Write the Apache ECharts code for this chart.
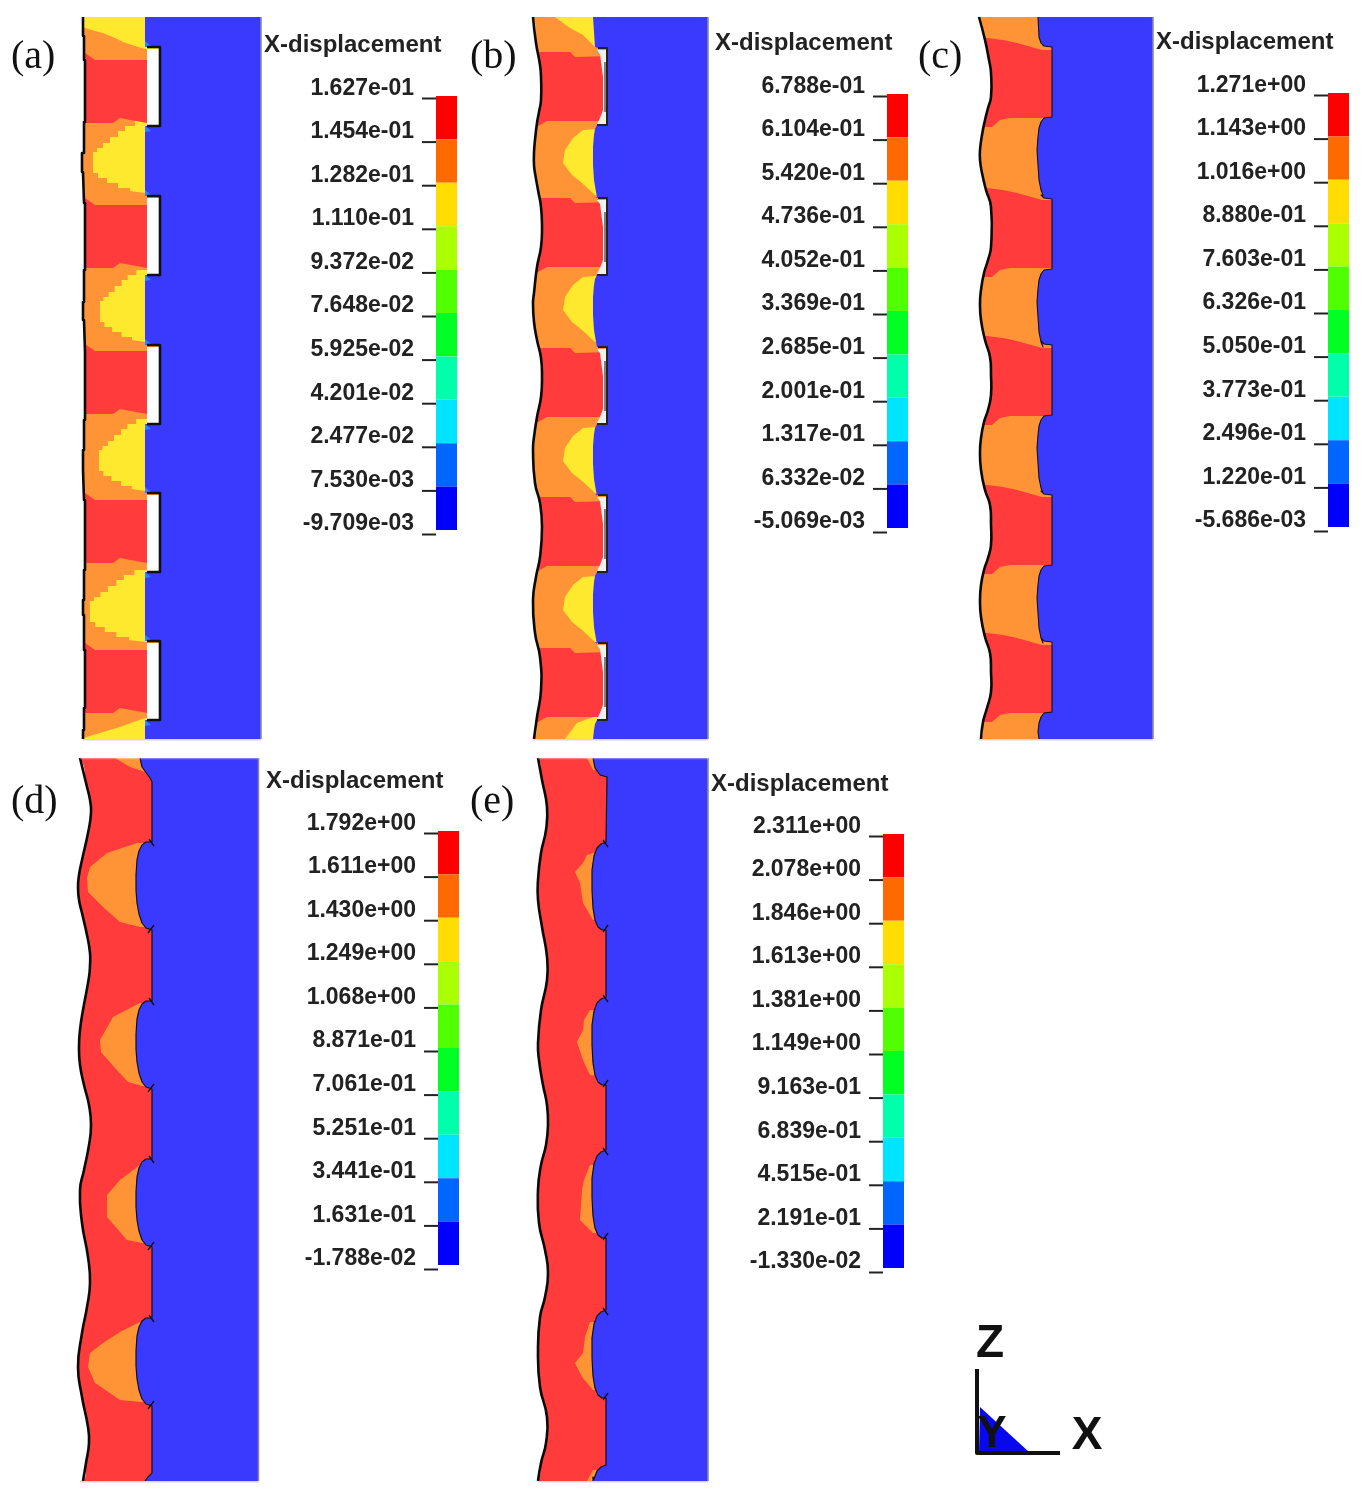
<!DOCTYPE html>
<html><head><meta charset="utf-8">
<style>html,body{margin:0;padding:0;background:#fff}#c{width:1363px;height:1492px;filter:blur(0.45px)}</style>
<script src="https://cdn.jsdelivr.net/npm/echarts@6/dist/echarts.min.js"></script>
</head><body><div id="c"></div>
<script>
// ---- legend values ----
const labelsA=['1.627e-01','1.454e-01','1.282e-01','1.110e-01','9.372e-02','7.648e-02','5.925e-02','4.201e-02','2.477e-02','7.530e-03','-9.709e-03'];
const labelsB=['6.788e-01','6.104e-01','5.420e-01','4.736e-01','4.052e-01','3.369e-01','2.685e-01','2.001e-01','1.317e-01','6.332e-02','-5.069e-03'];
const labelsC=['1.271e+00','1.143e+00','1.016e+00','8.880e-01','7.603e-01','6.326e-01','5.050e-01','3.773e-01','2.496e-01','1.220e-01','-5.686e-03'];
const labelsD=['1.792e+00','1.611e+00','1.430e+00','1.249e+00','1.068e+00','8.871e-01','7.061e-01','5.251e-01','3.441e-01','1.631e-01','-1.788e-02'];
const labelsE=['2.311e+00','2.078e+00','1.846e+00','1.613e+00','1.381e+00','1.149e+00','9.163e-01','6.839e-01','4.515e-01','2.191e-01','-1.330e-02'];
const scaleColors=['#ff0000','#ff6a00','#ffdd00','#aaff00','#50ff00','#00ff22','#00ffaa','#00e5ff','#0066ff','#0000ff'];

// ---- contour outlines ----
const leftA=[[83,17],[83,36],[84,36],[84,60],[85,60],[85,122],[84,122],[84,153],[82,153],[82,172],[83,172],[84,203],[85,203],[85,270],[84,270],[84,302],[83,302],[83,320],[84,320],[85,352],[85,420],[84,420],[84,450],[83,450],[83,470],[84,500],[85,500],[85,570],[84,570],[84,600],[83,600],[83,615],[84,615],[84,650],[85,650],[85,708],[84,708],[84,730],[83,730],[83,739]];
const leftB=[[533,17],[536,43],[540,65],[541,77],[541,100],[539,112],[537,123],[535,140],[534,153],[534,165],[535,173],[538,190],[541,207],[542,227],[541,247],[537,267],[534,293],[533,303],[534,322],[537,340],[541,358],[542,377],[541,397],[537,417],[534,437],[533,450],[535,483],[540,503],[542,527],[540,557],[536,577],[533,600],[535,633],[540,657],[541,690],[537,717],[534,739]];
const leftC=[[979,17],[985,40],[989,60],[991,73],[991,97],[988,108],[985,120],[982,135],[980,150],[980,160],[982,173],[986,190],[991,207],[991,247],[988,260],[984,273],[981,290],[980,303],[981,320],[985,340],[990,357],[991,375],[991,395],[988,410],[984,422],[981,438],[980,452],[981,470],[985,490],[990,505],[991,525],[991,545],[988,558],[984,570],[981,585],[980,600],[981,617],[985,637],[990,653],[991,672],[991,692],[987,708],[983,722],[981,739]];
const leftD=[[80,758],[87,787],[90,800],[91,813],[88,833],[82,860],[79,875],[78,887],[79,900],[82,913],[87,935],[90,953],[90,965],[89,977],[83,1010],[80,1030],[79,1047],[80,1065],[84,1085],[89,1105],[91,1125],[89,1145],[84,1170],[80,1190],[82,1223],[88,1257],[90,1283],[87,1307],[82,1333],[78,1367],[82,1397],[88,1427],[89,1443],[86,1463],[83,1481]];
const leftE=[[538,758],[542,780],[547,807],[546,830],[541,853],[538,880],[538,900],[542,927],[547,957],[547,980],[541,1010],[538,1043],[539,1060],[543,1085],[547,1105],[548,1125],[546,1145],[541,1165],[538,1190],[539,1223],[545,1250],[548,1273],[545,1297],[540,1317],[538,1350],[540,1387],[547,1417],[546,1443],[541,1463],[538,1481]];

// plate boundary of one rib + lobe, and where each repeat sits
const edgeCellA=[[145,47],[160,47],[160,126],[145,126]];
const edgeShiftA=[0,149,298,446,594];
const edgeCellB=[[595,47],[598,48],[607,48],[607,125],[597,125],[595,129],[594,135],[593,147],[593,165],[594,180],[596,192],[597,197]];
const edgeShiftB=[0,150,299,447,595];
const edgeCellC=[[1041,43],[1044,46],[1052,47],[1052,117],[1044,118],[1041,122],[1039,128],[1038,137],[1037,150],[1038,165],[1039,180],[1041,190],[1043,195]];
const edgeShiftC=[0,152,298,448,595];
const edgeCellD=[[152,842],[146,842],[142,845],[139,851],[137,860],[136,875],[136,890],[137,903],[139,914],[142,923],[146,928],[152,930]];
const edgeShiftD=[0,159,317,476];
const edgeCellE=[[606,842],[601,844],[597,848],[594,856],[592,870],[592,890],[593,908],[595,920],[598,927],[602,930],[606,930]];
const edgeShiftE=[0,155,308,468,623];

// panel (a) colour zones
const yellowTopA=[[80,17],[170,17],[170,49],[145,49],[135,46],[123,42],[115,38],[103,33],[95,31],[85,28],[80,27]];
const yellowLobeA=[[145,121],[135,121],[135,126],[125,126],[125,131],[118,131],[118,137],[110,137],[110,143],[103,143],[103,148],[97,148],[97,152],[93,152],[93,173],[98,173],[98,178],[107,178],[107,183],[118,183],[118,188],[130,188],[130,191],[145,193]];
const yellowLobeShiftA=[0,149,298,449];
const yellowLobeReachA=[1,0.865,0.885,1.06];
const yellowEndA=[[145,718],[120,727],[103,732],[87,737],[80,739],[170,739],[170,718]];
const redCellA=[[80,53],[85,53],[95,60],[170,60],[170,123],[147,123],[120,118],[113,123],[80,123]];
const redShiftA=[0,145,291,440,590];
const gapCellA=[[147,49],[159,49],[159,125],[147,125]];
const tipCellA=[[145,41],[151,46],[145,47]];

// panel (b) colour zones
const yellowTopB=[[555,17],[612,17],[612,47],[595,47],[583,35],[570,28]];
const yellowLobeB=[[612,128],[583,130],[573,138],[565,150],[563,163],[572,175],[582,183],[595,195],[612,195]];
const yellowLobeShiftB=[0,147,298,447];
const yellowEndB=[[612,717],[593,717],[577,723],[565,739],[612,739]];
const redCellB=[[525,198],[570,198],[575,203],[612,202],[612,267],[547,267],[538,272],[525,272]];
const redShiftB=[-146,0,150,299,450];
const gapCellB=[[597,50],[600,54],[603,77],[603,110],[600,118],[597,124],[606,124],[606,50]];
const greyBarCellB=[[605,62],[605,112]];

// panel (c) colour zones
const redCellC=[[970,188],[987,188],[1003,190],[1017,193],[1042,200],[1060,200],[1060,268],[1010,268],[1000,270],[992,277],[970,277]];
const redShiftC=[-150,0,148,297,445];

// panel (d) colour zones
const orangeTopD=[[115,758],[170,758],[170,775],[145,772],[130,767]];
const orangeLobeD1=[[170,843],[137,843],[107,853],[90,867],[87,878],[88,892],[103,907],[120,922],[140,927],[170,927]];
const orangeLobeD2=[[170,1003],[140,1003],[113,1017],[100,1040],[101,1052],[115,1068],[128,1082],[142,1086],[170,1086]];
const orangeLobeD3=[[170,1164],[140,1165],[120,1180],[107,1195],[107,1217],[127,1240],[142,1243],[170,1243]];
const orangeLobeD4=[[170,1322],[140,1322],[120,1332],[103,1343],[90,1353],[88,1367],[95,1383],[120,1400],[140,1402],[170,1402]];
const endEdgeD=[[152,1473],[148,1477],[145,1481]];

// panel (e) colour zones
const orangeTopE=[[587,758],[620,758],[620,770],[593,770]];
const orangeLobeE1=[[620,853],[593,853],[587,855],[583,863],[575,872],[580,883],[583,903],[593,920],[620,920]];
const orangeLobeE2=[[620,1010],[590,1010],[584,1020],[583,1030],[577,1042],[583,1060],[590,1075],[620,1078]];
const orangeLobeE3=[[620,1165],[590,1165],[584,1180],[582,1190],[580,1220],[593,1233],[620,1233]];
const orangeLobeE4=[[620,1322],[590,1322],[585,1337],[583,1353],[575,1363],[582,1377],[593,1390],[620,1390]];
const orangeEndE=[[620,1470],[593,1470],[587,1481],[620,1481]];

// colour-scale placement and titles
const panelLetters=['(a)','(b)','(c)','(d)','(e)'];
const letterSpots=[[11,57],[470,57],[918,57],[11,802],[470,802]];
const titleSpots=[[264,45],[715,43],[1156,42],[266,781],[711,784]];
const barSpots=[[436,96],[887,94],[1328,93],[438,831],[883,834]];

// ---- styles ----
const RED='#ff3b3b',ORANGE='#ff9436',YELLOW='#ffe92e',BLUE='#3a3aff',INK='#0a0a0a';
const shapes=[];
const add=(pts,fill,round)=>shapes.push({kind:'polygon',pts,fill,round});
const line=(pts,stroke,w,round)=>shapes.push({kind:'polyline',pts,stroke,w,round});
const at=(cell,dy)=>cell.map(p=>[p[0],p[1]+dy]);
const box=(x0,y0,x1,y1)=>[[x0,y0],[x1,y0],[x1,y1],[x0,y1]];
function chain(cell,shifts,bottom){
  const out=[];
  shifts.forEach(s=>at(cell,s).forEach(p=>{ if(p[1]<=bottom) out.push(p); }));
  return out;
}
function panel(o){
  const minX=Math.min(...o.left.map(p=>p[0]));
  add(box(minX-8,o.top,o.bandRight,o.bottom),o.base);
  o.zones.forEach(z=>add(z[0],z[1]));
  add([[minX-9,o.top],...o.left,[minX-9,o.bottom]],'#ffffff',o.round);
  const edge=[[o.edgeTopX,o.top],...o.edgeHead,...chain(o.cell,o.shifts,o.bottom),...o.edgeTail,[o.edgeEndX,o.bottom]];
  add([...edge,[o.right,o.bottom],[o.right,o.top]],BLUE);
  (o.after||[]).forEach(f=>f(edge));
  line(o.left,INK,2.6,o.round);
  line([[o.right,o.top],[o.right,o.bottom]],'#8a8aa0',1.6);
  line([[o.left[0][0],o.bottom+0.8],[o.right,o.bottom+0.8]],'#d4d4e4',1.4);
}
// (a)
panel({top:17,bottom:739,right:261,bandRight:172,base:ORANGE,left:leftA,
  zones:[[yellowTopA,YELLOW],...yellowLobeShiftA.map((s,i)=>[at(yellowLobeA,s).map(p=>[145-(145-p[0])*yellowLobeReachA[i],p[1]]).concat([[172,193+s],[172,121+s]]),YELLOW]),[yellowEndA,YELLOW],...redShiftA.map(s=>[at(redCellA,s),RED])],
  edgeTopX:145,edgeHead:[],cell:edgeCellA,shifts:edgeShiftA,edgeTail:[],edgeEndX:145,
  after:[()=>{edgeShiftA.forEach(s=>{
    add(at(gapCellA,s),'#ffffff');
    add(at(tipCellA,s),'#2a86ff');
    add(at(tipCellA,s+85),'#2a86ff');
    line(at([[147,47],[160,47],[160,126],[147,126]],s),'#111',2.6);
  });}]});
// (b)
panel({top:17,bottom:739,right:708,bandRight:612,base:ORANGE,left:leftB,round:0.5,
  zones:[[yellowTopB,YELLOW],...yellowLobeShiftB.map(s=>[at(yellowLobeB,s),YELLOW]),[yellowEndB,YELLOW],...redShiftB.map(s=>[at(redCellB,s),RED])],
  edgeTopX:593,edgeHead:[],cell:edgeCellB,shifts:edgeShiftB,edgeTail:[],edgeEndX:593,
  after:[()=>{edgeShiftB.forEach(s=>{
    add(at(gapCellB,s),'#f0f0f0');
    line(at(greyBarCellB,s),'#808088',2);
    line(at([[598,48],[607,48],[607,125],[597,125]],s),'#222',2);
  });}]});
// (c)
panel({top:17,bottom:739,right:1153,bandRight:1062,base:ORANGE,left:leftC,round:0.5,
  zones:redShiftC.map(s=>[at(redCellC,s),RED]),
  edgeTopX:1038,edgeHead:[[1039,37]],cell:edgeCellC,shifts:edgeShiftC,edgeTail:[],edgeEndX:1039,
  after:[e=>line(e,'#111',1.1)]});
// (d)
panel({top:758,bottom:1481,right:258.5,bandRight:172,base:RED,left:leftD,round:0.5,
  zones:[[orangeTopD,ORANGE],[orangeLobeD1,ORANGE],[orangeLobeD2,ORANGE],[orangeLobeD3,ORANGE],[orangeLobeD4,ORANGE]],
  edgeTopX:140,edgeHead:[[142,767],[150,778],[152,782]],cell:edgeCellD,shifts:edgeShiftD,edgeTail:endEdgeD,edgeEndX:145,
  after:[e=>{line(e,'#111',1.2);edgeShiftD.forEach(s=>{line(at([[149,839],[154,846]],s),'#111',1.4);line(at([[148,933],[154,925]],s),'#111',1.4);});}]});
// (e)
panel({top:758,bottom:1481,right:708,bandRight:622,base:RED,left:leftE,round:0.5,
  zones:[[orangeTopE,ORANGE],[orangeLobeE1,ORANGE],[orangeLobeE2,ORANGE],[orangeLobeE3,ORANGE],[orangeLobeE4,ORANGE],[orangeEndE,ORANGE]],
  edgeTopX:593,edgeHead:[[595,768],[600,775],[607,777]],cell:edgeCellE,shifts:edgeShiftE,edgeTail:[[593,1477]],edgeEndX:593,
  after:[e=>{line(e,'#111',1.2);edgeShiftE.forEach(s=>{if(s<620){line(at([[603,840],[608,847]],s),'#111',1.3);line(at([[603,932],[608,925]],s),'#111',1.3);}});}]});
// pale top rim of (d),(e)
line([[80,758.5],[258,758.5]],'rgba(255,255,255,0.35)',1.6);
line([[538,758.5],[708,758.5]],'rgba(255,255,255,0.35)',1.6);

// colour scales
const allLabels=[labelsA,labelsB,labelsC,labelsD,labelsE];
const texts=[];
barSpots.forEach((b,k)=>{
  scaleColors.forEach((c,i)=>add(box(b[0],b[1]+i*43.4,b[0]+21,b[1]+(i+1)*43.4),c));
  allLabels[k].forEach((t,i)=>{
    line([[b[0]-14,b[1]+2.5+i*43.6],[b[0],b[1]+2.5+i*43.6]],'#222',2);
    texts.push({t,x:b[0]-22,y:b[1]-7.6+i*43.55,align:'right',font:'bold 23px "Liberation Sans"',fill:'#222'});
  });
  texts.push({t:'X-displacement',x:titleSpots[k][0],y:titleSpots[k][1],align:'left',font:'bold 24px "Liberation Sans"',fill:'#222'});
  texts.push({t:panelLetters[k],x:letterSpots[k][0],y:letterSpots[k][1],align:'left',font:'40px "Liberation Serif"',fill:'#111'});
});
// axis triad
add([[980,1407],[1029,1452],[979,1452]],'#0808f0');
line([[977,1369],[977,1453],[1060,1453]],'#111',4);
texts.push({t:'Z',x:990,y:1344,align:'center',font:'bold 46px "Liberation Sans"',fill:'#111'});
texts.push({t:'X',x:1087,y:1436,align:'center',font:'bold 46px "Liberation Sans"',fill:'#111'});
texts.push({t:'Y',x:992,y:1435,align:'center',font:'bold 44px "Liberation Sans"',fill:'#111'});

const chart=echarts.init(document.getElementById('c'));
chart.setOption({
  animation:false,
  grid:{left:0,right:0,top:0,bottom:0},
  xAxis:{type:'value',min:0,max:1363,show:false},
  yAxis:{type:'value',min:0,max:1492,inverse:true,show:false},
  series:[
   {type:'custom',coordinateSystem:'cartesian2d',clip:false,silent:true,
    data:shapes.map((s,i)=>[i]),
    renderItem:(p,api)=>{
      const s=shapes[p.dataIndex];
      const pts=s.pts.map(q=>api.coord(q));
      return s.kind==='polygon'
       ? {type:'polygon',shape:{points:pts,smooth:s.round||0},style:{fill:s.fill,stroke:null}}
       : {type:'polyline',shape:{points:pts,smooth:s.round||0},style:{fill:null,stroke:s.stroke,lineWidth:s.w,lineJoin:'round'}};
    }},
   {type:'custom',coordinateSystem:'cartesian2d',clip:false,silent:true,z:5,
    data:texts.map((s,i)=>[i]),
    renderItem:(p,api)=>{
      const s=texts[p.dataIndex];
      const c=api.coord([s.x,s.y]);
      return {type:'text',x:c[0],y:c[1],style:{text:s.t,font:s.font,fill:s.fill,textAlign:s.align,textVerticalAlign:'middle'}};
    }}
  ]
});
</script></body></html>
